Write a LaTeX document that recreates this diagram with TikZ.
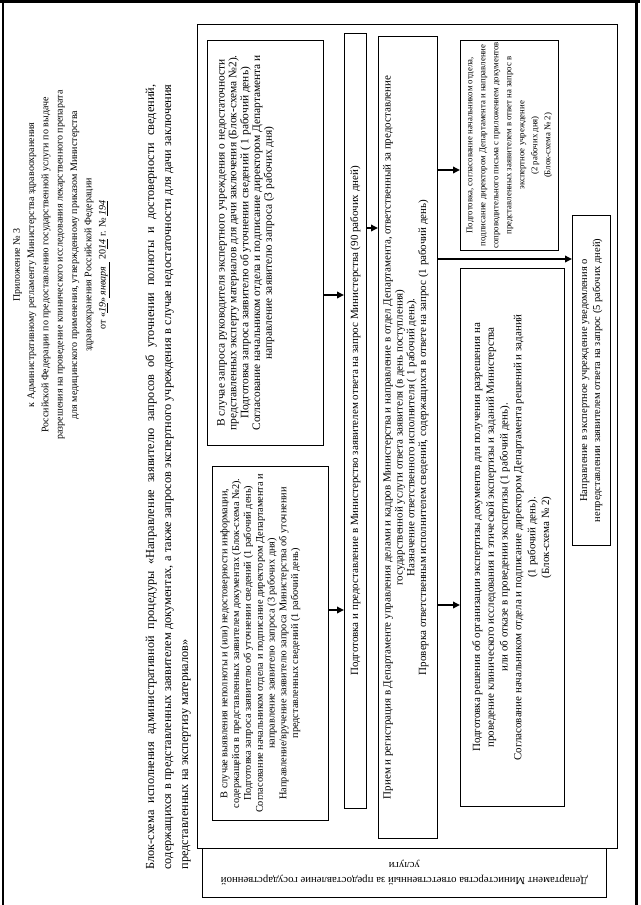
\documentclass[tikz,border=0pt]{standalone}
\usepackage{fontspec}
\setmainfont{Liberation Serif}
\usetikzlibrary{arrows.meta}
\begin{document}
\begin{tikzpicture}[x=1pt,y=-1pt,
  box/.style={draw, line width=0.7pt, inner sep=0pt, anchor=north west},
  btxt/.style={rotate=90, align=center, inner sep=0pt, font=\fontsize{11}{11.8}\selectfont},
  arr/.style={line width=1.8pt, -{Triangle[length=7pt,width=6.5pt]}}]
\useasboundingbox (0,0) rectangle (640,905);
% page edges
\draw[line width=3pt] (0,1.5) -- (640,1.5);
\draw[line width=3pt] (636,0) -- (636,905);
\draw[line width=1.5pt] (3,0) -- (3,905);
% header
\node[rotate=90, align=center, inner sep=0pt, anchor=north, font=\fontsize{10}{14.3}\selectfont] (hdr) at (13,265) {Приложение № 3\\
к Административному регламенту Министерства здравоохранения\\
Российской Федерации по  предоставлению государственной услуги по выдаче\\
разрешения на проведение клинического исследования  лекарственного препарата\\
для медицинского применения, утвержденному приказом Министерства\\
здравоохранения Российской Федерации\\
от «\underline{\itshape 19}»\underline{\itshape\ января\ \ } 20\underline{\itshape 14} г. № \underline{\itshape 194}};
% title
\node[rotate=90, align=justify, text width=785pt, inner sep=0pt, anchor=north, font=\fontsize{12.3}{17}\selectfont] (ttl) at (145,477) {Блок-схема исполнения административной процедуры «Направление заявителю запросов об уточнении полноты и достоверности сведений,\linebreak содержащихся в представленных заявителем документах, а также запросов экспертного учреждения в случае недостаточности для дачи заключения\linebreak представленных на экспертизу материалов»};
% swimlane and label
\node[box, minimum width=420pt, minimum height=824pt] (S) at (197,24) {};
\node[box, minimum width=404pt, minimum height=49pt] (L) at (202,848) {};
\node[rotate=180, align=center, inner sep=0pt, font=\fontsize{10.8}{15}\selectfont] (Lt) at (L.center) {Департамент Министерства ответственный за предоставление государственной\\ услуги};
% boxes
\node[box, minimum width=116pt, minimum height=405pt] (A) at (207,40) {};
\node[btxt, anchor=north, font=\fontsize{11.4}{11.8}\selectfont] (At) at ([xshift=10pt]A.west) {В случае запроса руководителя экспертного учреждения о недостаточности\\
представленных эксперту материалов для дачи заключения (Блок-схема №2).\\
Подготовка запроса заявителю об уточнении сведений  ( 1 рабочий день)\\
Согласование начальником отдела и подписание директором Департамента и\\
направление заявителю запроса (3 рабочих дня)};
\node[box, minimum width=116pt, minimum height=354pt] (B) at (212,466) {};
\node[btxt, anchor=north, font=\fontsize{10.3}{11.8}\selectfont] (Bt) at ([xshift=8pt]B.west) {В случае выявления неполноты и (или) недостоверности информации,\\
содержащейся в представленных заявителем документах (Блок-схема №2).\\
Подготовка запроса заявителю об уточнении сведений  (1 рабочий день)\\
Согласование начальником отдела и подписание директором Департамента и\\
направление заявителю запроса (3 рабочих дня)\\
Направление/вручение заявителю запроса Министерства об уточнении\\
представленных сведений (1 рабочий день)};
\node[box, minimum width=22pt, minimum height=775pt] (N) at (344,33) {};
\node[btxt] (Nt) at (N.center) {Подготовка и предоставление в Министерство заявителем ответа на запрос Министерства  (90 рабочих дней)};
\node[box, minimum width=59pt, minimum height=802pt] (C) at (378,36) {};
\node[btxt, anchor=north] (Ct) at ([xshift=5pt]C.west) {Прием и регистрация в Департаменте управления делами и кадров Министерства и направление в отдел Департамента, ответственный за предоставление\\
государственной услуги ответа заявителя (в день поступления)\\
Назначение ответственного исполнителя ( 1 рабочий день).\\
Проверка ответственным исполнителем сведений, содержащихся в ответе на запрос  (1 рабочий день)};
\node[box, minimum width=104pt, minimum height=538pt] (D) at (460,268) {};
\node[btxt, anchor=north, font=\fontsize{11}{13.8}\selectfont] (Dt) at ([xshift=12pt]D.west) {Подготовка решения об организации экспертизы документов для получения разрешения на\\
проведение клинического исследования и этической экспертизы и заданий Министерства\\
или об отказе в проведении экспертизы (1 рабочий день).\\
Согласование начальником отдела и подписание директором Департамента решений и заданий\\
(1 рабочий день).\\
(Блок-схема № 2)};
\node[box, minimum width=98pt, minimum height=210pt] (E) at (460,40) {};
\node[btxt, font=\fontsize{8.8}{13}\selectfont] (Et) at (E.center) {Подготовка, согласование начальником отдела,\\
подписание директором Департамента и направление\\
сопроводительного письма с приложением документов\\
представленных заявителем в ответ на запрос в\\
экспертное учреждение\\
(2 рабочих дня)\\
(Блок-схема № 2)};
\node[box, minimum width=38pt, minimum height=330pt] (F) at (572,215) {};
\node[btxt, font=\fontsize{10.5}{13}\selectfont] (Ft) at (F.center) {Направление в экспертное учреждение уведомления о\\
непредставлении заявителем ответа на запрос (5 рабочих дней)};
% connectors
\coordinate (ya) at (0,295);
\coordinate (yb) at (0,610);
\coordinate (yn) at (0,228);
\coordinate (yd) at (0,605);
\coordinate (yf) at (0,259);
\coordinate (ye) at (0,170);
\draw[arr] (A.east |- ya) -- (N.west |- ya);
\draw[arr] (B.east |- yb) -- (N.west |- yb);
\draw[arr] (N.east |- yn) -- (C.west |- yn);
\draw[arr] (C.east |- yd) -- (D.west |- yd);
\draw[arr] (C.east |- ye) -- (E.west |- ye);
\draw[arr] (C.east |- yf) -- (F.west |- yf);
\end{tikzpicture}
\end{document}
